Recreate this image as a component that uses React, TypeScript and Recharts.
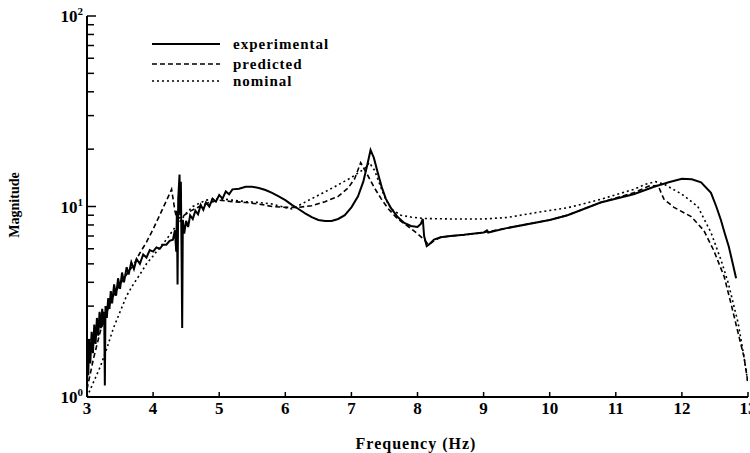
import { LineChart, Line, XAxis, YAxis, Label } from 'recharts'

// frequency (Hz) / magnitude pairs
const experimental = [
  [3.0, 1.1], [3.01, 1.7], [3.02, 1.3], [3.03, 2.0], [3.05, 1.5], [3.07, 2.2], [3.09, 1.7],
  [3.11, 2.4], [3.13, 1.9], [3.15, 2.6], [3.17, 2.1], [3.19, 2.8], [3.21, 2.3], [3.23, 2.9],
  [3.25, 2.4], [3.26, 2.8], [3.27, 1.15], [3.28, 3.0], [3.3, 2.6], [3.32, 3.3], [3.34, 2.9],
  [3.36, 3.6], [3.38, 3.1], [3.41, 3.9], [3.44, 3.4], [3.47, 4.2], [3.5, 3.7], [3.53, 4.5],
  [3.56, 4.0], [3.6, 4.8], [3.63, 4.4], [3.67, 5.1], [3.71, 4.7], [3.75, 5.3], [3.8, 5.0],
  [3.85, 5.6], [3.9, 5.4], [3.95, 5.9], [4.0, 5.8], [4.05, 6.1], [4.1, 6.0], [4.15, 6.3],
  [4.2, 6.3], [4.25, 6.6], [4.3, 6.7], [4.33, 7.5], [4.35, 5.8], [4.36, 9.5], [4.37, 3.9],
  [4.38, 11], [4.4, 14.7], [4.41, 9], [4.42, 13.5], [4.43, 6], [4.44, 2.3], [4.45, 8.5],
  [4.47, 7.2], [4.5, 8.4], [4.53, 7.8], [4.56, 9.0], [4.6, 8.6], [4.64, 9.5], [4.68, 9.1],
  [4.72, 10.2], [4.76, 9.6], [4.8, 10.5], [4.85, 10.0], [4.9, 11.0], [4.95, 10.6], [5.0, 11.5],
  [5.05, 11.0], [5.1, 12.0], [5.15, 11.6], [5.2, 12.3], [5.3, 12.4], [5.4, 12.7], [5.5, 12.7],
  [5.6, 12.5], [5.7, 12.2], [5.8, 11.8], [5.9, 11.3], [6.0, 10.8], [6.1, 10.2], [6.2, 9.7],
  [6.3, 9.2], [6.4, 8.8], [6.5, 8.5], [6.6, 8.4], [6.7, 8.4], [6.8, 8.6], [6.9, 9.0],
  [7.0, 9.9], [7.1, 11.3], [7.18, 13.5], [7.24, 16.5], [7.29, 19.8], [7.34, 18.0], [7.4, 15.0],
  [7.46, 12.6], [7.52, 11.0], [7.6, 9.8], [7.7, 8.8], [7.8, 8.2], [7.9, 7.9], [8.0, 7.8],
  [8.05, 8.1], [8.08, 8.6], [8.1, 7.0], [8.14, 6.2], [8.17, 6.3], [8.25, 6.7], [8.35, 6.9],
  [8.5, 7.0], [8.7, 7.1], [9.0, 7.3], [9.05, 7.5], [9.07, 7.3], [9.35, 7.7], [10.0, 8.5],
  [10.27, 9.0], [10.77, 10.5], [11.27, 11.6], [11.58, 12.7], [11.8, 13.4], [12.0, 14.0],
  [12.15, 13.9], [12.29, 13.4], [12.44, 11.8], [12.52, 10.0], [12.59, 8.5], [12.65, 7.2],
  [12.71, 6.15], [12.77, 5.0], [12.82, 4.2],
].map(([f, m]) => ({ f, m }))

const predicted = [
  [3.0, 1.1], [3.1, 1.6], [3.2, 2.2], [3.3, 2.8], [3.4, 3.4], [3.5, 3.9], [3.6, 4.4],
  [3.7, 4.9], [3.8, 5.7], [3.9, 6.5], [4.0, 7.6], [4.1, 9.0], [4.2, 10.7], [4.28, 12.3],
  [4.33, 9.5], [4.36, 8.6], [4.45, 8.9], [4.55, 9.4], [4.7, 10.0], [4.85, 10.5], [5.0, 10.8],
  [5.2, 10.6], [5.4, 10.5], [5.6, 10.3], [5.8, 10.0], [6.0, 9.9], [6.2, 9.9], [6.4, 10.1],
  [6.6, 10.6], [6.8, 11.3], [6.95, 12.5], [7.05, 14.0], [7.14, 17.0], [7.25, 14.5],
  [7.35, 12.5], [7.45, 11.0], [7.55, 9.8], [7.7, 8.6], [7.85, 7.9], [8.0, 7.2], [8.1, 6.7],
  [8.17, 6.3], [8.25, 6.6], [8.35, 6.9], [8.5, 7.0], [8.7, 7.1], [9.0, 7.3], [9.35, 7.7],
  [10.0, 8.5], [10.27, 9.0], [10.77, 10.5], [11.27, 11.8], [11.5, 12.8], [11.64, 12.9],
  [11.7, 11.5], [11.73, 10.9], [11.88, 9.9], [12.14, 8.85], [12.33, 7.5], [12.48, 5.9],
  [12.64, 4.28], [12.74, 3.12], [12.85, 2.17], [12.94, 1.62], [13.0, 1.18],
].map(([f, m]) => ({ f, m }))

const nominal = [
  [3.0, 1.0], [3.1, 1.2], [3.2, 1.44], [3.3, 1.8], [3.4, 2.3], [3.5, 2.8], [3.6, 3.4],
  [3.7, 3.9], [3.8, 4.4], [3.9, 5.0], [4.0, 5.5], [4.1, 6.1], [4.2, 6.7], [4.3, 7.5],
  [4.4, 8.3], [4.5, 9.2], [4.6, 10.0], [4.8, 10.8], [5.0, 11.0], [5.2, 10.8], [5.4, 10.6],
  [5.6, 10.5], [5.8, 10.3], [6.1, 9.7], [6.38, 10.9], [6.73, 12.6], [7.0, 14.2], [7.2, 15.8],
  [7.27, 17.0], [7.35, 15.5], [7.45, 12.5], [7.52, 10.9], [7.6, 9.7], [7.75, 9.0], [7.9, 8.8],
  [8.1, 8.65], [8.5, 8.6], [9.0, 8.6], [9.35, 8.75], [9.8, 9.3], [10.27, 9.85], [10.77, 10.9],
  [11.27, 12.3], [11.45, 13.1], [11.6, 13.5], [11.73, 13.1], [12.0, 11.6], [12.24, 10.0],
  [12.44, 7.3], [12.59, 5.26], [12.7, 3.98], [12.85, 2.45], [12.94, 1.62], [13.0, 1.18],
].map(([f, m]) => ({ f, m }))

const xTicks = [3, 4, 5, 6, 7, 8, 9, 10, 11, 12, 13]
const yTicks = [1, 2, 3, 4, 5, 6, 7, 8, 9, 10, 20, 30, 40, 50, 60, 70, 80, 90, 100]
const majorY: Record<number, string> = { 1: '0', 10: '1', 100: '2' }

const legendItems = [
  { name: 'experimental', dash: undefined },
  { name: 'predicted', dash: '5 3' },
  { name: 'nominal', dash: '2 3' },
]

const FONT = '"Liberation Serif", "DejaVu Serif", serif'

const LeftTick = ({ x, y, payload }: any) => {
  const exp = majorY[payload.value]
  return (
    <g>
      <line x1={x} x2={x + (exp ? 9 : 7)} y1={y} y2={y} stroke="#000" strokeWidth={1.5} />
      {exp && (
        <text x={x - 4} y={y + 6} textAnchor="end" fontFamily={FONT} fontWeight="bold" fontSize={17} fill="#000">
          10<tspan dy={-7} fontSize={11}>{exp}</tspan>
        </text>
      )}
    </g>
  )
}

const RightTick = ({ x, y, payload }: any) => {
  const exp = majorY[payload.value]
  return <line x1={x} x2={x - (exp ? 9 : 7)} y1={y} y2={y} stroke="#000" strokeWidth={1.5} />
}

const BottomTick = ({ x, y, payload }: any) => (
  <g>
    <line x1={x} x2={x} y1={y} y2={y - 5} stroke="#000" strokeWidth={1.5} />
    <text x={x} y={y + 17} textAnchor="middle" fontFamily={FONT} fontWeight="bold" fontSize={17} fill="#000">
      {payload.value}
    </text>
  </g>
)

const TopTick = ({ x, y }: any) => (
  <line x1={x} x2={x} y1={y} y2={y + 5} stroke="#000" strokeWidth={1.5} />
)

const LegendBox = () => (
  <g>
    {legendItems.map((item, i) => {
      const ly = [44, 64, 81][i]
      return (
        <g key={item.name}>
          <line x1={152} x2={220} y1={ly} y2={ly} stroke="#000" strokeWidth={item.dash ? 1.6 : 2} strokeDasharray={item.dash} />
          <text x={233} y={ly + 5} fontFamily={FONT} fontWeight="bold" fontSize={15} letterSpacing={1} fill="#000">
            {item.name}
          </text>
        </g>
      )
    })}
  </g>
)

export default function App() {
  return (
    <div style={{ position: 'absolute', left: 0, top: 0, background: '#fff' }}>
      <LineChart width={750} height={453} margin={{ top: 16, right: 2, bottom: 0, left: 0 }}>
        <XAxis
          dataKey="f"
          type="number"
          domain={[3, 13]}
          ticks={xTicks}
          allowDataOverflow
          height={56}
          axisLine={{ stroke: '#000', strokeWidth: 2 }}
          tickLine={false}
          tickSize={0}
          tickMargin={0}
          tick={<BottomTick />}
          interval={0}
        >
          <Label
            content={() => (
              <text x={416} y={449} textAnchor="middle" fontFamily={FONT} fontWeight="bold" fontSize={16} letterSpacing={1} fill="#000">
                Frequency (Hz)
              </text>
            )}
          />
        </XAxis>
        <XAxis
          xAxisId="top"
          orientation="top"
          dataKey="f"
          type="number"
          domain={[3, 13]}
          ticks={xTicks}
          height={0}
          axisLine={{ stroke: '#000', strokeWidth: 2 }}
          tickLine={false}
          tickSize={0}
          tickMargin={0}
          tick={<TopTick />}
          interval={0}
        />
        <YAxis
          scale="log"
          domain={[1, 100]}
          ticks={yTicks}
          allowDataOverflow
          width={87}
          axisLine={{ stroke: '#000', strokeWidth: 2 }}
          tickLine={false}
          tickSize={0}
          tickMargin={0}
          tick={<LeftTick />}
          interval={0}
          label={{ content: () => <LegendBox /> } as any}
        >
          <Label
            content={() => (
              <text x={19} y={205} transform="rotate(-90 19 205)" textAnchor="middle" fontFamily={FONT} fontWeight="bold" fontSize={14} fill="#000">
                Magnitude
              </text>
            )}
          />
        </YAxis>
        <YAxis
          yAxisId="right"
          orientation="right"
          scale="log"
          domain={[1, 100]}
          ticks={yTicks}
          width={0}
          axisLine={{ stroke: '#000', strokeWidth: 2 }}
          tickLine={false}
          tickSize={0}
          tickMargin={0}
          tick={<RightTick />}
          interval={0}
        />
        <Line data={nominal} dataKey="m" stroke="#000" strokeWidth={1.6} strokeDasharray="2 3" dot={false} isAnimationActive={false} type="linear" />
        <Line data={predicted} dataKey="m" stroke="#000" strokeWidth={1.6} strokeDasharray="5 3" dot={false} isAnimationActive={false} type="linear" />
        <Line data={experimental} dataKey="m" stroke="#000" strokeWidth={2} dot={false} isAnimationActive={false} type="linear" />
      </LineChart>
    </div>
  )
}
